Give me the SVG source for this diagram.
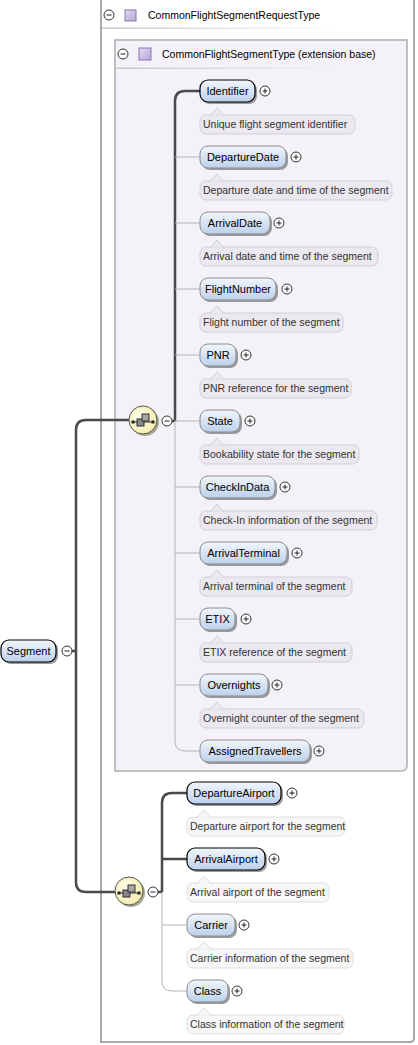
<svg xmlns="http://www.w3.org/2000/svg" width="418" height="1045" viewBox="0 0 418 1045">
<style>
.nt{font-family:"Liberation Sans",Arial,sans-serif;font-size:11px;fill:#000;text-anchor:middle}
.at{font-family:"Liberation Sans",Arial,sans-serif;font-size:10.5px;fill:#333}
.ht{font-family:"Liberation Sans",Arial,sans-serif;font-size:10.5px;fill:#000}
.nb{fill:url(#ng);stroke:#8c8c8c;stroke-width:1}
.nm{fill:url(#ng);stroke:#000;stroke-width:1.2}
.sh{fill:#9a9a9a}
.ai{fill:#ebe8f0;stroke:#d2cedb;stroke-width:1}
.ao{fill:#f7f7f7;stroke:#dedede;stroke-width:1}
.thick{fill:none;stroke:#4a4a4a;stroke-width:2.5}
.thin{fill:none;stroke:#b4b4b4;stroke-width:1}
.pm{fill:#fff;stroke:#333;stroke-width:1}
.pl{stroke:#222;stroke-width:1}
</style>
<defs>
<linearGradient id="ng" x1="0" y1="0" x2="0" y2="1">
<stop offset="0" stop-color="#f2f6fc"/>
<stop offset="1" stop-color="#bcd0ec"/>
</linearGradient>
<radialGradient id="yg" cx="0.4" cy="0.4" r="0.7">
<stop offset="0" stop-color="#fffff0"/>
<stop offset="1" stop-color="#f2eaa4"/>
</radialGradient>
<linearGradient id="ul" x1="0" y1="0" x2="1" y2="0">
<stop offset="0" stop-color="#c8c8c8"/>
<stop offset="1" stop-color="#c8c8c8" stop-opacity="0"/>
</linearGradient>
<linearGradient id="pg" x1="0" y1="0" x2="1" y2="1">
<stop offset="0" stop-color="#e4dcf2"/>
<stop offset="1" stop-color="#b6a6d6"/>
</linearGradient>
<g id="seq">
<circle cx="2" cy="2" r="14" fill="#a8a890"/>
<circle cx="0" cy="0" r="14" fill="url(#yg)" stroke="#555" stroke-width="1"/>
<line x1="-10" y1="2" x2="10" y2="2" stroke="#222" stroke-width="1"/>
<rect x="-11.5" y="0.5" width="3" height="3" fill="#222"/>
<rect x="8.5" y="0.5" width="3" height="3" fill="#222"/>
<rect x="-6" y="-1" width="7" height="7" fill="#8a8a8a" stroke="#222" stroke-width="0.9"/>
<rect x="-1" y="-6" width="7" height="7" fill="#a8a8a8" stroke="#222" stroke-width="0.9"/>
</g>
<g id="minus">
<circle cx="0" cy="0" r="5" class="pm"/>
<line x1="-2.5" y1="0" x2="2.5" y2="0" class="pl"/>
</g>
<g id="plus">
<circle cx="0" cy="0" r="5" class="pm"/>
<line x1="-2.5" y1="0" x2="2.5" y2="0" class="pl"/>
<line x1="0" y1="-2.5" x2="0" y2="2.5" class="pl"/>
</g>
</defs>
<rect width="418" height="1045" fill="#fff"/>

<g id="CommonFlightSegmentRequestType">
<path d="M101 -2 V1042 H410 Q414 1042 414 1038 V-2" fill="#fff" stroke="#aaa" stroke-width="2"/>
<use href="#minus" x="109" y="15"/>
<rect x="125" y="10" width="11" height="11" fill="url(#pg)" stroke="#8676b0" stroke-width="1"/>
<text class="ht" x="148" y="19">CommonFlightSegmentRequestType</text>
<rect x="102" y="27.5" width="236" height="1.5" fill="url(#ul)"/>
</g>

<g id="CommonFlightSegmentType">
<path d="M115 40 H407 V765 Q407 771 401 771 H115 Z" fill="#f4f2f8" stroke="#c0c0c0" stroke-width="2"/>
<use href="#minus" x="123" y="54"/>
<rect x="139" y="48" width="12" height="12" fill="url(#pg)" stroke="#8676b0" stroke-width="1"/>
<text class="ht" x="162" y="58">CommonFlightSegmentType (extension base)</text>
<rect x="116" y="67.5" width="222" height="1.5" fill="url(#ul)"/>
</g>

<g id="connectors">
<path class="thick" d="M72 651 H76"/>
<path class="thick" d="M129 420 H86 Q76 420 76 430 V882 Q76 892 86 892 H115"/>
<path class="thick" d="M172 421 H175"/>
<path class="thick" d="M200 91 H185 Q175 91 175 101 V421"/>
<path class="thin" d="M175 421 V741 Q175 751 185 751 H200"/>
<path class="thin" d="M175 157 H200 M175 223 H200 M175 289 H200 M175 355 H200 M175 421 H200 M175 487 H200 M175 553 H200 M175 619 H200 M175 685 H200"/>
<path class="thick" d="M158 892 H162"/>
<path class="thick" d="M187 793 H172 Q162 793 162 803 V892"/>
<path class="thick" d="M162 859 H187"/>
<path class="thin" d="M162 892 V981 Q162 991 172 991 H187"/>
<path class="thin" d="M162 925 H187"/>
</g>

<g id="Segment">
<rect class="sh" x="3" y="642" width="55" height="22" rx="8"/>
<rect class="nm" x="1" y="640" width="55" height="22" rx="8"/>
<text class="nt" x="28.5" y="655">Segment</text>
<use href="#minus" x="67" y="651"/>
</g>

<g id="sequence1">
<use href="#seq" x="143" y="420"/>
<use href="#minus" x="167" y="421"/>
</g>
<g id="sequence2">
<use href="#seq" x="129" y="891"/>
<use href="#minus" x="153" y="892"/>
</g>

<g id="Identifier">
<rect class="sh" x="202" y="82" width="55" height="22" rx="8"/>
<rect class="nm" x="200" y="80" width="55" height="22" rx="8"/>
<text class="nt" x="227.5" y="95">Identifier</text>
<use href="#plus" x="265" y="91"/>
<rect class="ai" x="200" y="115" width="155" height="19" rx="6"/>
<path d="M210 115.5 L217 108 L224 115.5" fill="#ebe8f0" stroke="#d2cedb"/>
<text class="at" x="203" y="128">Unique flight segment identifier</text>
</g>
<g id="DepartureDate">
<rect class="sh" x="202" y="148" width="86" height="22" rx="8"/>
<rect class="nb" x="200" y="146" width="86" height="22" rx="8"/>
<text class="nt" x="243" y="161">DepartureDate</text>
<use href="#plus" x="296" y="157"/>
<rect class="ai" x="200" y="181" width="192" height="19" rx="6"/>
<path d="M210 181.5 L217 174 L224 181.5" fill="#ebe8f0" stroke="#d2cedb"/>
<text class="at" x="203" y="194">Departure date and time of the segment</text>
</g>
<g id="ArrivalDate">
<rect class="sh" x="202" y="214" width="70" height="22" rx="8"/>
<rect class="nb" x="200" y="212" width="70" height="22" rx="8"/>
<text class="nt" x="235" y="227">ArrivalDate</text>
<use href="#plus" x="279" y="223"/>
<rect class="ai" x="200" y="247" width="178" height="19" rx="6"/>
<path d="M210 247.5 L217 240 L224 247.5" fill="#ebe8f0" stroke="#d2cedb"/>
<text class="at" x="203" y="260">Arrival date and time of the segment</text>
</g>
<g id="FlightNumber">
<rect class="sh" x="202" y="280" width="76" height="22" rx="8"/>
<rect class="nb" x="200" y="278" width="76" height="22" rx="8"/>
<text class="nt" x="238" y="293">FlightNumber</text>
<use href="#plus" x="287" y="289"/>
<rect class="ai" x="200" y="313" width="143" height="19" rx="6"/>
<path d="M210 313.5 L217 306 L224 313.5" fill="#ebe8f0" stroke="#d2cedb"/>
<text class="at" x="203" y="326">Flight number of the segment</text>
</g>
<g id="PNR">
<rect class="sh" x="202" y="346" width="36" height="22" rx="8"/>
<rect class="nb" x="200" y="344" width="36" height="22" rx="8"/>
<text class="nt" x="218" y="359">PNR</text>
<use href="#plus" x="246" y="355"/>
<rect class="ai" x="200" y="379" width="151" height="19" rx="6"/>
<path d="M210 379.5 L217 372 L224 379.5" fill="#ebe8f0" stroke="#d2cedb"/>
<text class="at" x="203" y="392">PNR reference for the segment</text>
</g>
<g id="State">
<rect class="sh" x="202" y="412" width="40" height="22" rx="8"/>
<rect class="nb" x="200" y="410" width="40" height="22" rx="8"/>
<text class="nt" x="220" y="425">State</text>
<use href="#plus" x="250" y="421"/>
<rect class="ai" x="200" y="445" width="159" height="19" rx="6"/>
<path d="M210 445.5 L217 438 L224 445.5" fill="#ebe8f0" stroke="#d2cedb"/>
<text class="at" x="203" y="458">Bookability state for the segment</text>
</g>
<g id="CheckInData">
<rect class="sh" x="202" y="478" width="75" height="22" rx="8"/>
<rect class="nb" x="200" y="476" width="75" height="22" rx="8"/>
<text class="nt" x="237.5" y="491">CheckInData</text>
<use href="#plus" x="285" y="487"/>
<rect class="ai" x="200" y="511" width="177" height="19" rx="6"/>
<path d="M210 511.5 L217 504 L224 511.5" fill="#ebe8f0" stroke="#d2cedb"/>
<text class="at" x="203" y="524">Check-In information of the segment</text>
</g>
<g id="ArrivalTerminal">
<rect class="sh" x="202" y="544" width="87" height="22" rx="8"/>
<rect class="nb" x="200" y="542" width="87" height="22" rx="8"/>
<text class="nt" x="243.5" y="557">ArrivalTerminal</text>
<use href="#plus" x="297" y="553"/>
<rect class="ai" x="200" y="577" width="152" height="19" rx="6"/>
<path d="M210 577.5 L217 570 L224 577.5" fill="#ebe8f0" stroke="#d2cedb"/>
<text class="at" x="203" y="590">Arrival terminal of the segment</text>
</g>
<g id="ETIX">
<rect class="sh" x="202" y="610" width="35" height="22" rx="8"/>
<rect class="nb" x="200" y="608" width="35" height="22" rx="8"/>
<text class="nt" x="217.5" y="623">ETIX</text>
<use href="#plus" x="246" y="619"/>
<rect class="ai" x="200" y="643" width="152" height="19" rx="6"/>
<path d="M210 643.5 L217 636 L224 643.5" fill="#ebe8f0" stroke="#d2cedb"/>
<text class="at" x="203" y="656">ETIX reference of the segment</text>
</g>
<g id="Overnights">
<rect class="sh" x="202" y="676" width="68" height="22" rx="8"/>
<rect class="nb" x="200" y="674" width="68" height="22" rx="8"/>
<text class="nt" x="234" y="689">Overnights</text>
<use href="#plus" x="277" y="685"/>
<rect class="ai" x="200" y="709" width="164" height="19" rx="6"/>
<path d="M210 709.5 L217 702 L224 709.5" fill="#ebe8f0" stroke="#d2cedb"/>
<text class="at" x="203" y="722">Overnight counter of the segment</text>
</g>
<g id="AssignedTravellers">
<rect class="sh" x="202" y="742" width="110" height="22" rx="8"/>
<rect class="nb" x="200" y="740" width="110" height="22" rx="8"/>
<text class="nt" x="255" y="755">AssignedTravellers</text>
<use href="#plus" x="319" y="751"/>
</g>

<g id="DepartureAirport">
<rect class="sh" x="189" y="784" width="94" height="22" rx="8"/>
<rect class="nm" x="187" y="782" width="94" height="22" rx="8"/>
<text class="nt" x="234" y="797">DepartureAirport</text>
<use href="#plus" x="292" y="793"/>
<rect class="ao" x="187" y="817" width="158" height="19" rx="6"/>
<path d="M197 817.5 L204 810 L211 817.5" fill="#f7f7f7" stroke="#dedede"/>
<text class="at" x="190" y="830">Departure airport for the segment</text>
</g>
<g id="ArrivalAirport">
<rect class="sh" x="189" y="850" width="78" height="22" rx="8"/>
<rect class="nm" x="187" y="848" width="78" height="22" rx="8"/>
<text class="nt" x="226" y="863">ArrivalAirport</text>
<use href="#plus" x="274" y="859"/>
<rect class="ao" x="187" y="883" width="142" height="19" rx="6"/>
<path d="M197 883.5 L204 876 L211 883.5" fill="#f7f7f7" stroke="#dedede"/>
<text class="at" x="190" y="896">Arrival airport of the segment</text>
</g>
<g id="Carrier">
<rect class="sh" x="189" y="916" width="48" height="22" rx="8"/>
<rect class="nb" x="187" y="914" width="48" height="22" rx="8"/>
<text class="nt" x="211" y="929">Carrier</text>
<use href="#plus" x="244" y="925"/>
<rect class="ao" x="187" y="949" width="166" height="19" rx="6"/>
<path d="M197 949.5 L204 942 L211 949.5" fill="#f7f7f7" stroke="#dedede"/>
<text class="at" x="190" y="962">Carrier information of the segment</text>
</g>
<g id="Class">
<rect class="sh" x="189" y="982" width="41" height="22" rx="8"/>
<rect class="nb" x="187" y="980" width="41" height="22" rx="8"/>
<text class="nt" x="207.5" y="995">Class</text>
<use href="#plus" x="237" y="991"/>
<rect class="ao" x="187" y="1015" width="157" height="19" rx="6"/>
<path d="M197 1015.5 L204 1008 L211 1015.5" fill="#f7f7f7" stroke="#dedede"/>
<text class="at" x="190" y="1028">Class information of the segment</text>
</g>
</svg>
